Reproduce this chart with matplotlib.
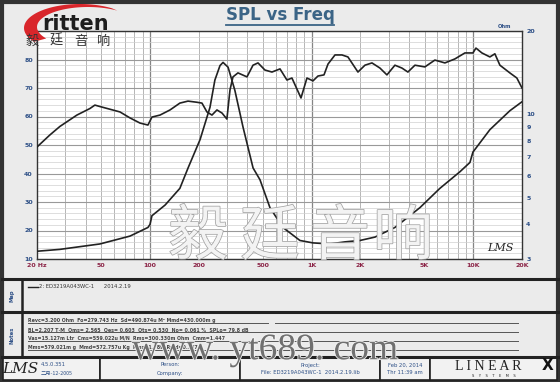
import numpy as np
import matplotlib.pyplot as plt
from matplotlib import patheffects
from matplotlib.patches import Rectangle, Polygon
from matplotlib.lines import Line2D
from matplotlib.ticker import FixedLocator, NullFormatter

# SPL curve (Hz, dB)
spl_freq = [20, 24, 27.7, 35.3, 42.5, 45.6, 49, 65.2, 75.2, 86.7, 97.1, 102.8, 115.3, 133, 153,
            171.8, 195, 209.6, 225, 241.7, 259.5, 279, 299, 312.4, 326, 350, 398, 433.6, 465.6,
            514, 568, 637, 703, 755, 859, 935, 1019, 1094, 1192, 1262, 1394, 1539, 1676, 1933,
            2136, 2360, 2644, 2921, 3273, 3616, 3938, 4353, 5015, 5782, 6670, 7690, 8870, 9940,
            10380, 11300, 12660, 13590, 14600, 16820, 18590, 20000]
spl_db = [49.3, 53.5, 56.5, 60.5, 62.8, 64.0, 63.5, 61.6, 59.5, 57.7, 57.0, 59.8, 60.5, 62.3, 64.7,
          65.4, 65.0, 64.7, 61.6, 60.5, 62.3, 61.2, 59.1, 69.3, 73.9, 75.3, 73.9, 78.0, 78.8,
          76.3, 75.6, 76.7, 72.8, 73.5, 66.5, 73.5, 72.5, 74.2, 74.6, 78.4, 81.6, 81.6, 80.9, 75.6,
          78.0, 78.8, 77.0, 74.6, 78.0, 77.0, 75.6, 78.0, 77.4, 79.8, 78.8, 80.2, 82.3, 82.3,
          84.0, 82.3, 80.9, 82.0, 78.0, 75.3, 73.5, 70.0]

# impedance curve (Hz, Ohm)
imp_freq = [20, 27.7, 49, 75.2, 97.1, 100, 102.8, 124, 153, 172, 204, 235, 252, 271, 283, 304,
            335, 376, 434, 479, 552, 664, 846, 1019, 1298, 1608, 1990, 2463, 3273, 4675, 6210,
            8260, 9530, 9940, 12660, 16820, 20000]
imp_ohm = [3.2, 3.25, 3.4, 3.63, 3.9, 4.0, 4.3, 4.7, 5.4, 6.4, 8.1, 10.6, 13.3, 15.0, 15.4, 14.8,
           12.2, 9.0, 6.4, 5.8, 4.6, 3.9, 3.5, 3.43, 3.4, 3.46, 3.5, 3.6, 3.9, 4.6, 5.4,
           6.2, 6.7, 7.3, 8.8, 10.3, 11.1]

x_ticks = [20, 50, 100, 200, 500, 1000, 2000, 5000, 10000, 20000]
x_labels = ['20 Hz', '50', '100', '200', '500', '1K', '2K', '5K', '10K', '20K']
db_ticks = [10, 20, 30, 40, 50, 60, 70, 80, 90]
ohm_ticks = [3, 4, 5, 6, 7, 8, 9, 10, 20]

notes = ['Revc=3.200 Ohm  Fo=279.743 Hz  Sd=490.874u M\u00b2 Mmd=430.000m g',
         'BL=2.207 T\u00b7M  Qms= 2.565  Qes= 0.603  Qts= 0.530  No= 0.061 %  SPLo= 79.8 dB',
         'Vas=15.127m Ltr  Cms=559.022u M/N  Rms=300.330m Ohm  Cmm=1.447',
         'Mms=579.021m g  Mmd=572.757u Kg  Kms=1.789  Rmd=0.757']

W, H = 560, 382
blue = '#2d4f86'
red = '#8b2346'
cjk = ['Noto Sans CJK SC', 'DejaVu Sans']


def fx(x):
    return x / W


def fy(y):
    return 1 - y / H


fig = plt.figure(figsize=(5.6, 3.82), dpi=100)
fig.patch.set_facecolor('#ebebeb')

ax = fig.add_axes([fx(37), fy(259), 485 / W, 228 / H])
ax.set_facecolor('white')
ax.set_xscale('log')
ax.set_xlim(20, 20000)
ax.set_ylim(10, 90)
ax.plot(spl_freq, spl_db, color='#222222', lw=1.2, zorder=5)

minor_x = [m * 10 ** d for d in range(1, 5) for m in range(2, 10)]
minor_x = [v for v in minor_x if 20 <= v <= 20000]
ax.xaxis.set_major_locator(FixedLocator(x_ticks))
ax.xaxis.set_minor_locator(FixedLocator(minor_x))
ax.set_xticklabels(x_labels)
ax.xaxis.set_minor_formatter(NullFormatter())
ax.set_yticks(db_ticks)
for v in minor_x:
    ax.axvline(v, color='#a9a9a9', lw=0.6, zorder=1)
for v in [100, 1000, 10000]:
    ax.axvline(v, color='#858585', lw=0.9, zorder=1)
for v in np.arange(12, 90, 2):
    ax.axhline(v, color='#d0d0d0', lw=0.5, zorder=1)
for v in db_ticks:
    ax.axhline(v, color='#999999', lw=0.8, zorder=1)
ax.tick_params(which='both', length=0)
ax.tick_params(axis='x', pad=3, labelsize=4.5, labelcolor=red)
ax.tick_params(axis='y', pad=3, labelsize=4.5, labelcolor=blue)
for lab in ax.get_xticklabels() + ax.get_yticklabels():
    lab.set_fontweight('bold')
for s in ax.spines.values():
    s.set_color('#333333')
    s.set_linewidth(1.0)

ax2 = ax.twinx()
ax2.set_yscale('log')
ax2.set_ylim(3, 20)
ax2.plot(imp_freq, imp_ohm, color='#222222', lw=1.2, zorder=5)
ax2.yaxis.set_major_locator(FixedLocator(ohm_ticks))
ax2.yaxis.set_minor_locator(FixedLocator([]))
ax2.set_yticklabels([str(v) for v in ohm_ticks])
ax2.tick_params(which='both', length=0, pad=3, labelsize=4.5, labelcolor=blue)
for lab in ax2.get_yticklabels():
    lab.set_fontweight('bold')
for s in ax2.spines.values():
    s.set_visible(False)

fig.text(fx(505), fy(27), 'Ohm', fontsize=3.8, color=blue, fontweight='bold', ha='center', va='center')
fig.text(fx(500), fy(248), 'LMS', fontsize=8, style='italic', family='DejaVu Serif',
         color='#222222', ha='center', va='center')

# title
fig.text(fx(280), fy(15), 'SPL vs Freq', fontsize=12, fontweight='bold', color='#3b6486',
         ha='center', va='center')
fig.add_artist(Line2D([fx(226), fx(334)], [fy(25), fy(25)], color='#3b6486', lw=1.3))

# logo
t = np.radians(np.linspace(55, 215, 60))
outer = np.c_[80 + 56 * np.cos(t), 28 - 24 * np.sin(t)]
inner = np.c_[88 + 51 * np.cos(t[::-1]), 27 - 20 * np.sin(t[::-1])]
pts = np.vstack([outer, inner])
fig.add_artist(Polygon(np.c_[pts[:, 0] / W, 1 - pts[:, 1] / H], closed=True,
                       facecolor='#d9262b', edgecolor='none', zorder=6))
fig.text(fx(42), fy(24), 'ritten', fontsize=15, fontweight='bold', color='#1e1e1e',
         ha='left', va='center', zorder=7)
for ch, cx in zip('毅廷音响', [32, 56, 81, 103]):
    fig.text(fx(cx), fy(41), ch, fontsize=9.5, color='#333333', ha='center', va='center',
             family=cjk, zorder=7)

# watermark over the plot
for ch, cx in zip('毅廷音响', [198, 270, 340, 403]):
    fig.text(fx(cx), fy(238), ch, fontsize=43, color='#f3f3f3', ha='center', va='center',
             family=cjk, zorder=8,
             path_effects=[patheffects.withStroke(linewidth=1.1, foreground='#a3a3a3')])

# outer frame and section lines
fig.add_artist(Rectangle((0.003, 0.004), 0.994, 0.992, transform=fig.transFigure, fill=False,
                         edgecolor='#333333', lw=3))
for yy in [279, 312, 357]:
    fig.add_artist(Line2D([fx(2), fx(558)], [fy(yy), fy(yy)], color='#222222', lw=2.2))
fig.add_artist(Line2D([fx(22), fx(22)], [fy(279), fy(357)], color='#222222', lw=1.8))
fig.text(fx(12), fy(296), 'Map', fontsize=3.8, color=blue, fontweight='bold', rotation=90,
         ha='center', va='center')
fig.text(fx(12), fy(335), 'Notes', fontsize=3.8, color=blue, fontweight='bold', rotation=90,
         ha='center', va='center')

fig.add_artist(Line2D([fx(28), fx(38)], [fy(287), fy(287)], color='#222222', lw=1.0))
fig.text(fx(39), fy(287), '2: ED3219A043WC-1      2014.2.19', fontsize=3.8, color='#333333',
         ha='left', va='center')

note_y = [323, 332, 341, 350]
for i, (txt, yy) in enumerate(zip(notes, note_y)):
    fig.text(fx(28), fy(yy - 2.5), txt, fontsize=3.4, color='#444444', fontweight='bold',
             ha='left', va='center')
    if i == 0:
        fig.add_artist(Line2D([fx(28), fx(268)], [fy(yy), fy(yy)], color='#555555', lw=0.7))
        fig.add_artist(Line2D([fx(275), fx(518)], [fy(yy), fy(yy)], color='#555555', lw=0.7))
    else:
        fig.add_artist(Line2D([fx(28), fx(518)], [fy(yy), fy(yy)], color='#555555', lw=0.7))

fig.text(fx(265), fy(350), 'www. yt689. com', fontsize=27, family='Liberation Serif',
         color='#707070', ha='center', va='center', zorder=8,
         path_effects=[patheffects.withStroke(linewidth=1.2, foreground='#f4f4f4')])

# footer
for x0, x1 in [(3, 100), (100, 240), (240, 380), (380, 430), (430, 557)]:
    fig.add_artist(Rectangle((fx(x0), fy(380)), (x1 - x0) / W, 23 / H, transform=fig.transFigure,
                             facecolor='#f2f2f2', edgecolor='#222222', lw=1.2))
fig.text(fx(20), fy(369), 'LMS', fontsize=11, style='italic', family='DejaVu Serif',
         color='#222222', ha='center', va='center')
fig.text(fx(41), fy(365), '4.5.0.351', fontsize=3.8, color=blue, ha='left', va='center')
fig.text(fx(41), fy(373), '二月-12-2005', fontsize=3.8, color=blue, ha='left', va='center',
         family=cjk)
fig.text(fx(170), fy(365), 'Person:', fontsize=3.8, color=blue, ha='center', va='center')
fig.text(fx(170), fy(373), 'Company:', fontsize=3.8, color=blue, ha='center', va='center')
fig.text(fx(310), fy(365), 'Project:', fontsize=3.8, color=blue, ha='center', va='center')
fig.text(fx(310), fy(373), 'File: ED3219A043WC-1  2014.2.19.lib', fontsize=3.8, color=blue,
         ha='center', va='center')
fig.text(fx(405), fy(365), 'Feb 20, 2014', fontsize=3.8, color=blue, ha='center', va='center')
fig.text(fx(405), fy(373), 'Thr 11:39 am', fontsize=3.8, color=blue, ha='center', va='center')
fig.text(fx(488), fy(366), 'L I N E A R', fontsize=10, color='#222222', ha='center', va='center',
         family='Liberation Serif')
fig.text(fx(548), fy(366), 'X', fontsize=11, fontweight='bold', color='#111111', ha='center',
         va='center')
fig.text(fx(494), fy(376), 'S    Y    S    T    E    M    S', fontsize=2.6, color='#222222',
         ha='center', va='center')

fig.savefig('out.png', dpi=100, facecolor=fig.get_facecolor())
